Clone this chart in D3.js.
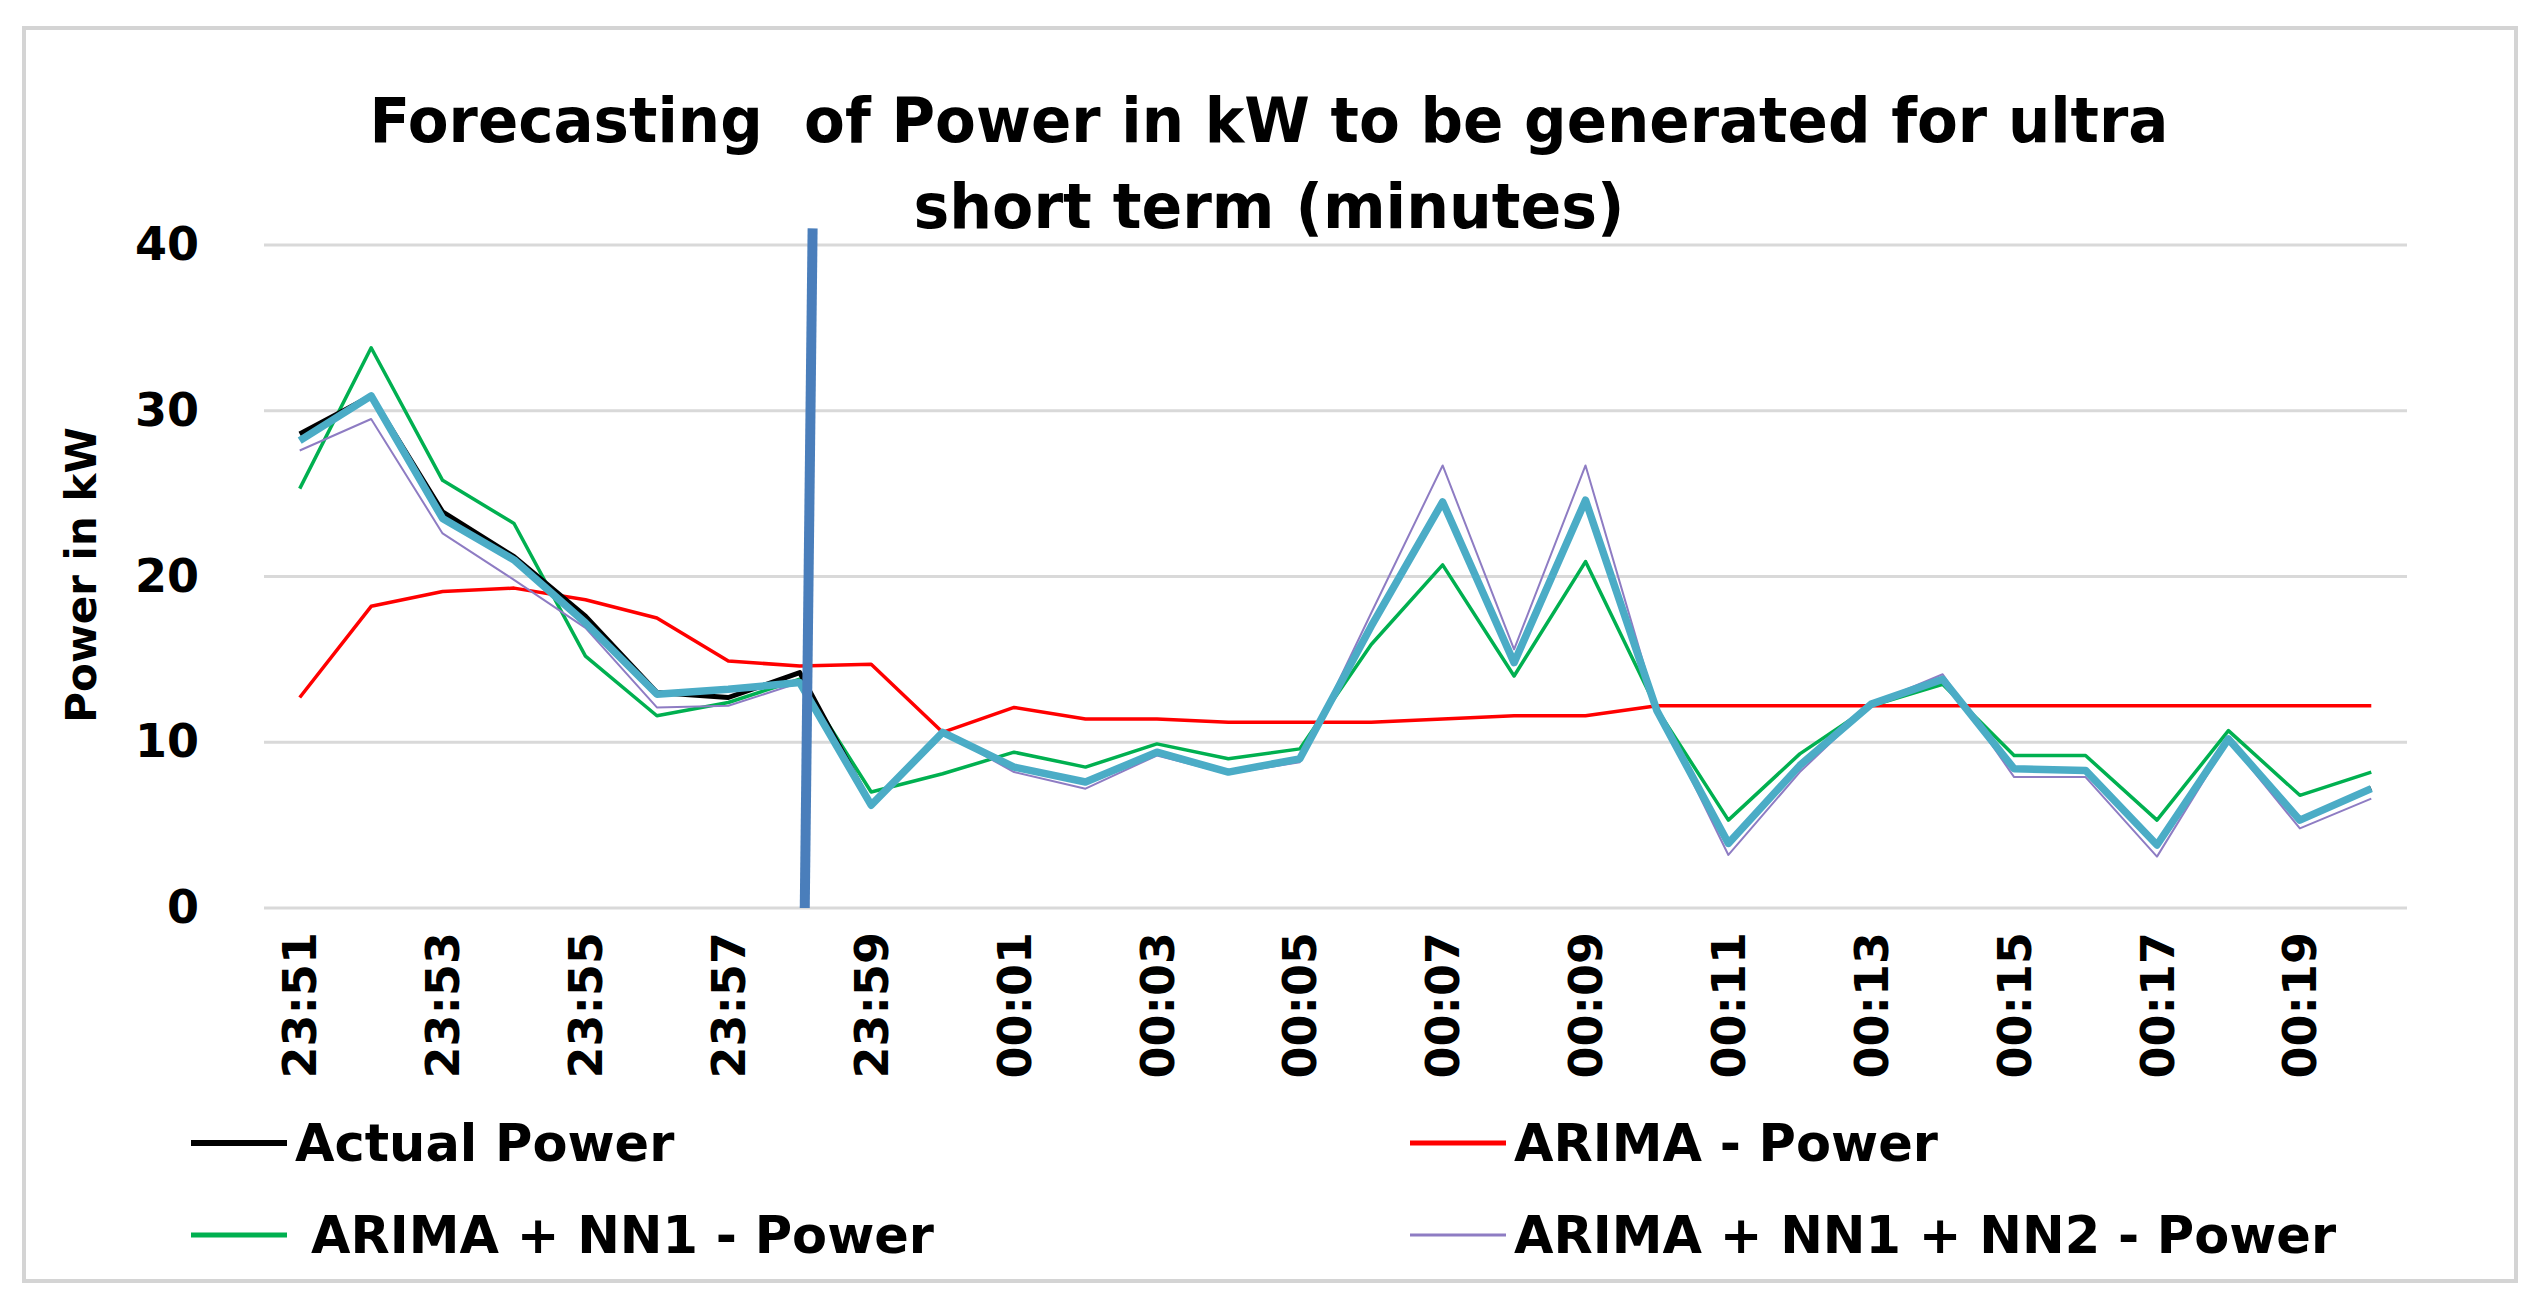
<!DOCTYPE html>
<html><head><meta charset="utf-8">
<script src="https://cdn.jsdelivr.net/npm/d3@7"></script>
<style>
html,body{margin:0;padding:0;background:#fff;}
text{font-family:"DejaVu Sans",Verdana,sans-serif;font-weight:bold;fill:#000;white-space:pre;}
</style></head>
<body><svg id="c" width="2542" height="1304"></svg>
<script>
const categories = ["23:51","23:52","23:53","23:54","23:55","23:56","23:57","23:58","23:59","00:00",
  "00:01","00:02","00:03","00:04","00:05","00:06","00:07","00:08","00:09","00:10",
  "00:11","00:12","00:13","00:14","00:15","00:16","00:17","00:18","00:19","00:20"];
const actualPower = [28.6,30.9,23.9,21.2,17.6,13.0,12.7,14.2,6.2,10.6,
  8.5,7.6,9.4,8.2,9.0,17.0,24.5,14.8,24.6,11.9,
  3.9,8.6,12.3,13.8,8.4,8.3,3.8,10.2,5.3,7.2];
const arimaPower = [12.7,18.2,19.1,19.3,18.6,17.5,14.9,14.6,14.7,10.6,
  12.1,11.4,11.4,11.2,11.2,11.2,11.4,11.6,11.6,12.2,
  12.2,12.2,12.2,12.2,12.2,12.2,12.2,12.2,12.2,12.2];
const arimaNN1Power = [25.3,33.8,25.8,23.2,15.2,11.6,12.4,13.8,7.0,8.1,
  9.4,8.5,9.9,9.0,9.6,15.9,20.7,14.0,20.9,12.0,
  5.3,9.3,12.2,13.5,9.2,9.2,5.3,10.7,6.8,8.2];
const arimaNN1NN2Power = [27.6,29.5,22.6,19.8,16.9,12.1,12.2,13.6,6.1,10.6,
  8.2,7.2,9.2,8.1,8.8,17.8,26.7,15.6,26.7,12.0,
  3.2,8.2,12.3,14.1,7.9,7.9,3.1,10.1,4.8,6.6];
const extraSeries = [28.2,30.9,23.5,21.0,17.2,12.9,13.2,13.6,6.2,10.6,
  8.5,7.6,9.4,8.2,9.0,17.0,24.5,14.8,24.6,11.9,
  3.9,8.6,12.3,13.8,8.4,8.3,3.8,10.2,5.3,7.2];
const yTicks = [0,10,20,30,40];
const dividerIndex = [7.18, 7.07];
const dividerValue = [41, 0];
const titleLines = ["Forecasting  of Power in kW to be generated for ultra","short term (minutes)"];
const yTitle = "Power in kW";
const legendLabels = ["Actual Power","ARIMA - Power","ARIMA + NN1 - Power","ARIMA + NN1 + NN2 - Power"];

const svg = d3.select("#c");
// frame
svg.append("rect").attr("x",24).attr("y",28).attr("width",2492).attr("height",1253)
  .attr("fill","#fff").attr("stroke","#d4d4d4").attr("stroke-width",4);

const x = d3.scaleLinear().domain([-0.5, categories.length-0.5]).range([264, 2407]);
const y = d3.scaleLinear().domain([0,40]).range([908, 245]);

// grid
svg.append("g").selectAll("line").data(yTicks).join("line")
  .attr("x1",264).attr("x2",2407).attr("y1",d=>y(d)).attr("y2",d=>y(d))
  .attr("stroke","#d9d9d9").attr("stroke-width",3);

// y axis labels
const yAxis = d3.axisLeft(y).tickValues(yTicks).tickSize(0).tickPadding(0);
const gy = svg.append("g").attr("transform","translate(199,0)").call(yAxis);
gy.select(".domain").remove();
gy.selectAll("text").attr("font-size",46).attr("font-family","DejaVu Sans").attr("font-weight","bold").attr("fill","#000");

// x axis labels
const xAxis = d3.axisBottom(x).tickValues(d3.range(0,categories.length,2)).tickFormat(i=>categories[i]).tickSize(0);
const gx = svg.append("g").attr("transform","translate(0,932)").call(xAxis);
gx.select(".domain").remove();
gx.selectAll("text").attr("font-size",46).attr("font-family","DejaVu Sans").attr("font-weight","bold").attr("fill","#000")
  .attr("transform","rotate(-90)").attr("text-anchor","end").attr("x",0).attr("y",0).attr("dy","0.35em").attr("dx",0);

// lines
const line = d3.line().x((d,i)=>x(i)).y(d=>y(d));
const series = [
  {v:arimaPower, c:"#ff0000", w:3.5},
  {v:arimaNN1Power, c:"#00b050", w:3.5},
  {v:arimaNN1NN2Power, c:"#8e7cc3", w:2},
  {v:actualPower, c:"#000000", w:5},
  {v:extraSeries, c:"#4bacc6", w:7.5}
];
svg.append("g").selectAll("path").data(series).join("path")
  .attr("d",d=>line(d.v)).attr("fill","none").attr("stroke",d=>d.c)
  .attr("stroke-width",d=>d.w).attr("stroke-linejoin","round");

// divider
svg.append("line").attr("x1",x(dividerIndex[0])).attr("y1",y(dividerValue[0]))
  .attr("x2",x(dividerIndex[1])).attr("y2",y(dividerValue[1]))
  .attr("stroke","#4a7ebb").attr("stroke-width",10);

// title
const titleLen = [1799, 711];
svg.append("g").selectAll("text").data(titleLines).join("text")
  .attr("x",1269).attr("y",(d,i)=>142+i*86).attr("text-anchor","middle")
  .attr("font-size",62).attr("textLength",(d,i)=>titleLen[i]).attr("lengthAdjust","spacingAndGlyphs")
  .text(d=>d);

// y title
svg.append("text").attr("transform","translate(81,575) rotate(-90)").attr("text-anchor","middle")
  .attr("dy","0.35em").attr("font-size",42).text(yTitle);

// legend
const leg = [
  {sx:191, tx:295, y:1143, c:"#000000", w:6},
  {sx:1410, tx:1514, y:1143, c:"#ff0000", w:5},
  {sx:191, tx:311, y:1235, c:"#00b050", w:5},
  {sx:1410, tx:1514, y:1235, c:"#8e7cc3", w:3}
];
const lg = svg.append("g").selectAll("g").data(leg).join("g");
lg.append("line").attr("x1",d=>d.sx).attr("x2",d=>d.sx+96).attr("y1",d=>d.y).attr("y2",d=>d.y)
  .attr("stroke",d=>d.c).attr("stroke-width",d=>d.w);
lg.append("text").attr("x",d=>d.tx).attr("y",d=>d.y).attr("dy","0.35em").attr("font-size",51)
  .text((d,i)=>legendLabels[i]);
</script></body></html>
